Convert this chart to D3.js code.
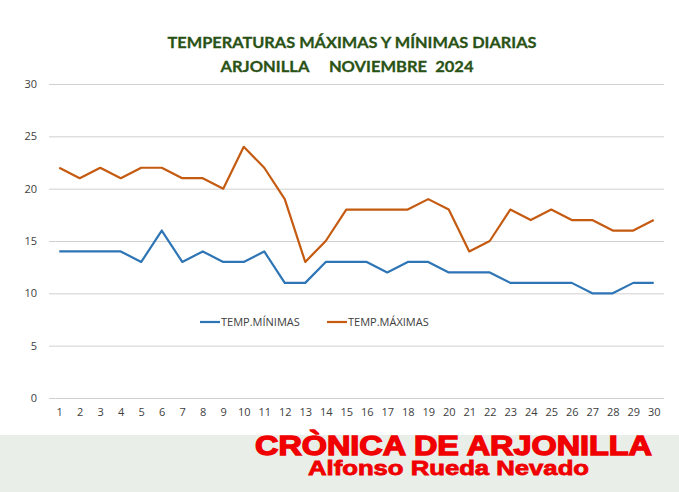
<!DOCTYPE html>
<html>
  <head>
    <meta charset="UTF-8">
    <title>Temperaturas Arjonilla noviembre 2024</title>
    <script src="https://d3js.org/d3.v7.min.js"></script>
    <style>
      body { margin: 0; background: #fff; }
      text { font-family: "Open Sans", "Noto Sans", sans-serif; }
      .tick text { font-size: 11px; fill: #404040; }
      .grid line { stroke: #d0d0d0; }
      .title { font-family: Lato, "Open Sans", sans-serif; font-weight: bold; font-size: 16px; fill: #2a5216; stroke: #2a5216; stroke-width: 0.3; }
      .legend text { font-size: 11px; fill: #404040; }
      .line { fill: none; stroke-width: 2.2; stroke-linejoin: round; }
      .brand { font-family: "Liberation Sans", Arial, sans-serif; font-weight: bold; fill: #f00000; stroke: #f00000; }
    </style>
  </head>
  <body>
    <div id="chart"></div>
<script>
  // data
  var days = d3.range(1, 31);
  var tempMin = [14,14,14,14,13,16,13,14,13,13,14,11,11,13,13,13,12,13,13,12,12,12,11,11,11,11,10,10,11,11];
  var tempMax = [22,21,22,21,22,22,21,21,20,24,22,19,13,15,18,18,18,18,19,18,14,15,18,17,18,17,17,16,16,17];
  var yTicks = [0, 5, 10, 15, 20, 25, 30];
  var seriesNames = ["TEMP.MÍNIMAS", "TEMP.MÁXIMAS"];
  var seriesColors = ["#2e75b6", "#c55a11"];

  var W = 679, H = 492;
  var margin = {top: 84, right: 15, bottom: 94, left: 49};
  var width = W - margin.left - margin.right,
      height = H - margin.top - margin.bottom;

  var svg = d3.select("#chart").append("svg")
      .attr("width", W).attr("height", H);

  // title
  svg.append("text").attr("class", "title")
      .attr("x", 352).attr("y", 48).attr("text-anchor", "middle")
      .attr("textLength", 369).attr("lengthAdjust", "spacingAndGlyphs")
      .text("TEMPERATURAS MÁXIMAS Y MÍNIMAS DIARIAS");
  svg.append("text").attr("class", "title")
      .attr("x", 347).attr("y", 72).attr("text-anchor", "middle")
      .attr("textLength", 253).attr("lengthAdjust", "spacingAndGlyphs")
      .attr("xml:space", "preserve")
      .text("ARJONILLA     NOVIEMBRE  2024");

  var g = svg.append("g")
      .attr("transform", "translate(" + margin.left + "," + margin.top + ")");

  var x = d3.scalePoint().domain(days).range([0, width]).padding(0.5);
  var y = d3.scaleLinear().domain([0, 30]).range([height, 0]);

  // gridlines + y labels
  var yAxis = g.append("g").attr("class", "grid")
      .call(d3.axisLeft(y).tickValues(yTicks).tickSize(-width).tickPadding(12));
  yAxis.select(".domain").remove();

  // x labels
  var xAxis = g.append("g").attr("class", "grid")
      .attr("transform", "translate(0," + height + ")")
      .call(d3.axisBottom(x).tickSize(0).tickPadding(10));
  xAxis.select(".domain").remove();

  // lines
  var line = d3.line()
      .x(function(d, i) { return x(days[i]); })
      .y(function(d) { return y(d); });

  [tempMin, tempMax].forEach(function(s, k) {
    g.append("path").attr("class", "line")
        .datum(s)
        .attr("stroke", seriesColors[k])
        .attr("d", line);
  });

  // legend
  var legend = svg.append("g").attr("class", "legend");
  var lx = [200, 327];
  seriesNames.forEach(function(n, k) {
    legend.append("line")
        .attr("x1", lx[k]).attr("x2", lx[k] + 20)
        .attr("y1", 322).attr("y2", 322)
        .attr("stroke", seriesColors[k]).attr("stroke-width", 2.2);
    legend.append("text")
        .attr("x", lx[k] + 21).attr("y", 326)
        .text(n);
  });

  // banner
  svg.append("rect")
      .attr("x", 0).attr("y", 435).attr("width", W).attr("height", H - 435)
      .attr("fill", "#e9eee9");
  svg.append("text").attr("class", "brand")
      .attr("x", 255).attr("y", 455).attr("font-size", 28)
      .attr("stroke-width", 1.4)
      .attr("textLength", 397).attr("lengthAdjust", "spacingAndGlyphs")
      .text("CRÒNICA DE ARJONILLA");
  svg.append("text").attr("class", "brand")
      .attr("x", 308).attr("y", 475).attr("font-size", 20)
      .attr("stroke-width", 0.8)
      .attr("textLength", 281).attr("lengthAdjust", "spacingAndGlyphs")
      .text("Alfonso Rueda Nevado");
</script>
  </body>
</html>
